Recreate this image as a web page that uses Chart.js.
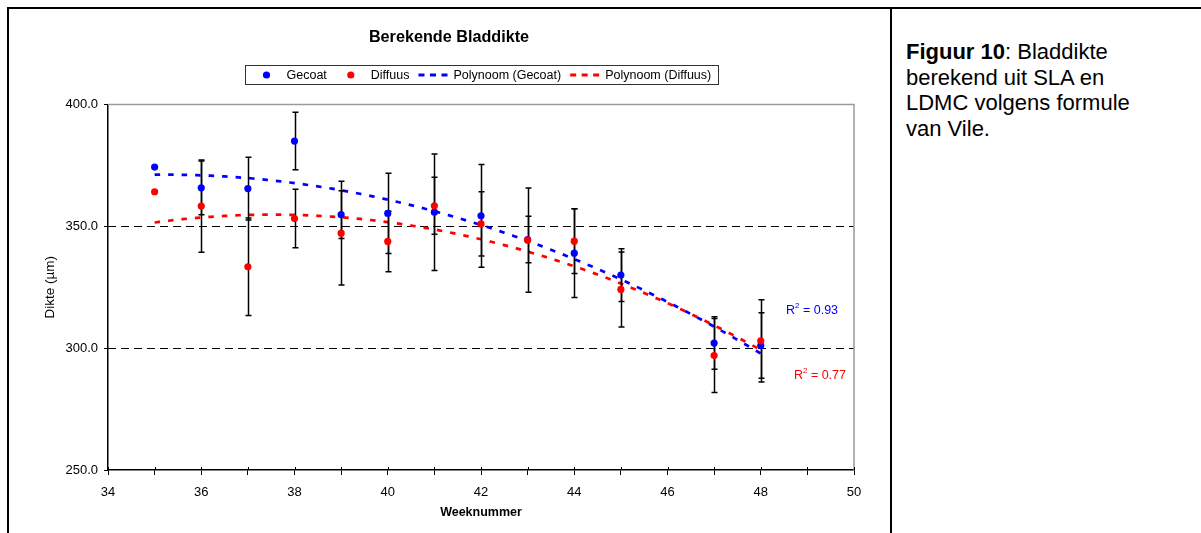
<!DOCTYPE html>
<html>
<head>
<meta charset="utf-8">
<script src="https://cdn.jsdelivr.net/npm/chart.js@4.4.1/dist/chart.umd.min.js"></script>
<style>
  html, body { margin: 0; padding: 0; background: #fff; width: 1201px; height: 533px; overflow: hidden;
               font-family: 'Liberation Sans', Arial, sans-serif; }
  .rule { position: absolute; background: #000; z-index: 2; }
  #wrap { position: absolute; left: 9px; top: 9px; width: 880px; height: 524px; }
  #caption { position: absolute; left: 906px; top: 39px; font-size: 22px; line-height: 25.5px;
             color: #000; white-space: nowrap; }
</style>
</head>
<body>
<div class="rule" style="left:7px; top:7px; width:1194px; height:2px"></div>
<div class="rule" style="left:7px; top:7px; width:2px; height:526px"></div>
<div class="rule" style="left:890px; top:7px; width:2px; height:526px"></div>
<div id="wrap"><canvas id="chart"></canvas></div>
<div id="caption"><b>Figuur 10</b>: Bladdikte<br>berekend uit SLA en<br>LDMC volgens formule<br>van Vile.</div>

<script>
// Week numbers of the measurements
const weeks = [35, 36, 37, 38, 39, 40, 41, 42, 43, 44, 45, 47, 48];

// Calculated leaf thickness (µm) and standard deviations per treatment
const gecoat      = [374.3, 365.8, 365.5, 385.0, 354.8, 355.3, 355.8, 354.3, 344.6, 339.0, 330.0, 302.1, 301.1];
const gecoatErr   = [null,  11.0,  12.9,  11.8,   9.8,  16.5,  23.9,  21.1,   9.5,  18.2,  10.8,  10.8,  13.4];
const diffuus     = [364.2, 358.3, 333.4, 353.2, 347.2, 343.8, 358.4, 351.0, 344.3, 343.9, 324.1, 297.0, 303.0];
const diffuusErr  = [null,  18.9,  20.0,  12.0,  21.3,  12.4,  11.7,  13.2,  21.4,  13.3,  15.4,  15.2,  16.9];

// Axis ticks
const xTicks = [34, 36, 38, 40, 42, 44, 46, 48, 50];
const yTicks = [250, 300, 350, 400];

// Coefficients of determination of the trendlines
const r2Gecoat = '0.93';
const r2Diffuus = '0.77';

const BLUE = '#0000FF';
const RED = '#FF0000';
const FONT = "'Liberation Sans', Arial, sans-serif";

// Second order least-squares polynomial through the measured points
function polyFit2(xs, ys) {
  let s0 = 0, s1 = 0, s2 = 0, s3 = 0, s4 = 0, t0 = 0, t1 = 0, t2 = 0;
  xs.forEach((x, i) => {
    const y = ys[i];
    s0 += 1; s1 += x; s2 += x * x; s3 += x ** 3; s4 += x ** 4;
    t0 += y; t1 += x * y; t2 += x * x * y;
  });
  const M = [[s0, s1, s2, t0], [s1, s2, s3, t1], [s2, s3, s4, t2]];
  for (let c = 0; c < 3; c++) {
    let p = c;
    for (let r = c + 1; r < 3; r++) if (Math.abs(M[r][c]) > Math.abs(M[p][c])) p = r;
    [M[c], M[p]] = [M[p], M[c]];
    for (let r = 0; r < 3; r++) {
      if (r === c) continue;
      const f = M[r][c] / M[c][c];
      for (let k = c; k < 4; k++) M[r][k] -= f * M[c][k];
    }
  }
  return [M[0][3] / M[0][0], M[1][3] / M[1][1], M[2][3] / M[2][2]];
}

function trendline(xs, ys) {
  const [a, b, c] = polyFit2(xs, ys);
  const lo = Math.min(...xs), hi = Math.max(...xs);
  const pts = [];
  for (let x = lo; x <= hi + 1e-9; x += 0.1) pts.push({ x, y: a + b * x + c * x * x });
  return pts;
}

const toPoints = (ys) => weeks.map((w, i) => ({ x: w, y: ys[i] }));

// Background lines, plot frame, error bars, labels, title and legend
const framePlugin = {
  id: 'frame',
  beforeDatasetsDraw(chart) {
    const { ctx, chartArea: a, scales: { x, y } } = chart;
    ctx.save();
    ctx.strokeStyle = '#000';
    ctx.lineWidth = 1;
    ctx.setLineDash([8, 5]);
    yTicks.slice(1, -1).forEach(v => {
      const py = Math.round(y.getPixelForValue(v)) + 0.5;
      ctx.beginPath(); ctx.moveTo(a.left, py); ctx.lineTo(a.right, py); ctx.stroke();
    });
    ctx.setLineDash([]);
    ctx.strokeStyle = '#9a9a9a';
    ctx.lineWidth = 1.5;
    ctx.beginPath();
    ctx.moveTo(a.left, a.top); ctx.lineTo(a.right, a.top); ctx.lineTo(a.right, a.bottom);
    ctx.stroke();
    // tick marks reaching slightly into the plot
    ctx.strokeStyle = '#000';
    ctx.lineWidth = 1;
    for (let v = x.min; v <= x.max; v++) {
      const px = Math.round(x.getPixelForValue(v)) + 0.5;
      ctx.beginPath(); ctx.moveTo(px, a.bottom); ctx.lineTo(px, a.bottom - 3); ctx.stroke();
    }
    ctx.restore();
  },
  // error bars sit behind the markers
  beforeDatasetDraw(chart, args) {
    if (args.index !== 1) return;
    const { ctx, scales: { x, y } } = chart;
    ctx.save();
    ctx.strokeStyle = '#000';
    ctx.lineWidth = 1.5;
    const drawBars = (vals, errs) => {
      vals.forEach((v, i) => {
        const e = errs[i];
        if (e == null) return;
        const px = Math.round(x.getPixelForValue(weeks[i])) + 0.5;
        const top = y.getPixelForValue(v + e);
        const bot = y.getPixelForValue(v - e);
        ctx.beginPath();
        ctx.moveTo(px, top); ctx.lineTo(px, bot);
        ctx.moveTo(px - 3, top); ctx.lineTo(px + 3, top);
        ctx.moveTo(px - 3, bot); ctx.lineTo(px + 3, bot);
        ctx.stroke();
      });
    };
    drawBars(gecoat, gecoatErr);
    drawBars(diffuus, diffuusErr);
    ctx.restore();
  },
  afterDatasetsDraw(chart) {
    const { ctx, scales: { x, y } } = chart;
    const drawR2 = (value, wx, wy, color) => {
      ctx.save();
      ctx.fillStyle = color;
      ctx.textBaseline = 'middle';
      ctx.textAlign = 'left';
      const big = `12.5px ${FONT}`, small = `8px ${FONT}`;
      ctx.font = big; const wR = ctx.measureText('R').width;
      const rest = ' = ' + value; const wRest = ctx.measureText(rest).width;
      ctx.font = small; const w2 = ctx.measureText('2').width;
      const total = wR + w2 + wRest;
      let cx = x.getPixelForValue(wx) - total / 2;
      const cy = y.getPixelForValue(wy);
      ctx.font = big; ctx.fillText('R', cx, cy); cx += wR;
      ctx.font = small; ctx.fillText('2', cx, cy - 4.5); cx += w2;
      ctx.font = big; ctx.fillText(rest, cx, cy);
      ctx.restore();
    };
    drawR2(r2Gecoat, 49.1, 315.4, BLUE);
    drawR2(r2Diffuus, 49.27, 288.8, RED);
  },
  afterDraw(chart) {
    const { ctx, chartArea: a } = chart;
    ctx.save();
    // chart title, centred on the whole chart
    ctx.fillStyle = '#000';
    ctx.textAlign = 'center';
    ctx.textBaseline = 'middle';
    ctx.font = `bold 16.2px ${FONT}`;
    ctx.fillText('Berekende Bladdikte', chart.width / 2, 29);

    // boxed legend under the title
    const items = [
      { label: 'Gecoat', color: BLUE, kind: 'dot' },
      { label: 'Diffuus', color: RED, kind: 'dot' },
      { label: 'Polynoom (Gecoat)', color: BLUE, kind: 'dash' },
      { label: 'Polynoom (Diffuus)', color: RED, kind: 'dash' }
    ];
    ctx.font = `12.5px ${FONT}`;
    ctx.textAlign = 'left';
    const sym = 32, gapText = 4, gapItem = 8, padL = 5, padR = 7;
    const widths = items.map(it => ctx.measureText(it.label).width);
    const total = padL + padR + items.length * (sym + gapText) + widths.reduce((s, w) => s + w, 0) + gapItem * (items.length - 1);
    const cx = (a.left + a.right) / 2;
    const left = Math.round(cx - total / 2) + 0.5;
    const top = 56.5, h = 19, midY = top + h / 2;
    ctx.strokeStyle = '#333';
    ctx.lineWidth = 1;
    ctx.strokeRect(left, top, Math.round(total), h);
    let px = left + padL;
    items.forEach((it, i) => {
      ctx.fillStyle = it.color;
      if (it.kind === 'dot') {
        ctx.beginPath(); ctx.arc(px + sym / 2, midY, 3.6, 0, Math.PI * 2); ctx.fill();
      } else {
        for (let k = 0; k < 3; k++) ctx.fillRect(px + 1 + k * 11.5, midY - 1.5, 6, 3);
      }
      px += sym + gapText;
      ctx.fillStyle = '#000';
      ctx.fillText(it.label, px, midY + 0.5);
      px += widths[i] + gapItem;
    });
    ctx.restore();
  }
};

new Chart(document.getElementById('chart'), {
  type: 'scatter',
  data: {
    datasets: [
      { label: 'Diffuus', data: toPoints(diffuus), order: 0, backgroundColor: RED, borderColor: RED,
        pointRadius: 3.6, pointBorderWidth: 0, showLine: false },
      { label: 'Gecoat', data: toPoints(gecoat), order: 1, backgroundColor: BLUE, borderColor: BLUE,
        pointRadius: 3.6, pointBorderWidth: 0, showLine: false },
      { label: 'Polynoom (Diffuus)', data: trendline(weeks, diffuus), order: 2, borderColor: RED,
        borderWidth: 2.7, borderDash: [5.5, 8], pointRadius: 0, showLine: true, fill: false },
      { label: 'Polynoom (Gecoat)', data: trendline(weeks, gecoat), order: 3, borderColor: BLUE,
        borderWidth: 2.7, borderDash: [5.5, 8], pointRadius: 0, showLine: true, fill: false }
    ]
  },
  options: {
    responsive: true,
    maintainAspectRatio: false,
    devicePixelRatio: 1,
    animation: false,
    events: [],
    layout: { padding: { left: 0, right: 35, top: 95.5, bottom: 0 } },
    plugins: {
      legend: { display: false },
      tooltip: { enabled: false },
      title: { display: false }
    },
    scales: {
      x: {
        type: 'linear',
        min: xTicks[0],
        max: xTicks[xTicks.length - 1],
        afterFit: s => { s.height = 63; },
        afterBuildTicks: s => {
          const t = [];
          for (let v = xTicks[0]; v <= xTicks[xTicks.length - 1]; v++) t.push({ value: v });
          s.ticks = t;
        },
        ticks: {
          autoSkip: false, maxRotation: 0, color: '#000', padding: 10,
          font: { family: FONT, size: 13 },
          callback: v => (xTicks.includes(v) ? String(v) : '')
        },
        grid: { drawOnChartArea: false, drawTicks: true, tickLength: 5, color: '#000', lineWidth: 1 },
        border: { display: true, color: '#000', width: 1.5 },
        title: {
          display: true, text: 'Weeknummer', color: '#000',
          font: { family: FONT, size: 12.5, weight: 'bold' },
          padding: { top: 0, bottom: 13 }
        }
      },
      y: {
        type: 'linear',
        min: yTicks[0],
        max: yTicks[yTicks.length - 1],
        afterFit: s => { s.width = 99; },
        afterBuildTicks: s => { s.ticks = yTicks.map(v => ({ value: v })); },
        ticks: {
          color: '#000', padding: 6,
          font: { family: FONT, size: 13 },
          callback: v => Number(v).toFixed(1)
        },
        grid: { drawOnChartArea: false, drawTicks: true, tickLength: 4, color: '#000', lineWidth: 1 },
        border: { display: true, color: '#000', width: 1.5 },
        title: {
          display: true, text: 'Dikte (µm)', color: '#000',
          font: { family: FONT, size: 13.5 },
          padding: { top: 33, bottom: 0 }
        }
      }
    }
  },
  plugins: [framePlugin]
});
</script>
</body>
</html>
